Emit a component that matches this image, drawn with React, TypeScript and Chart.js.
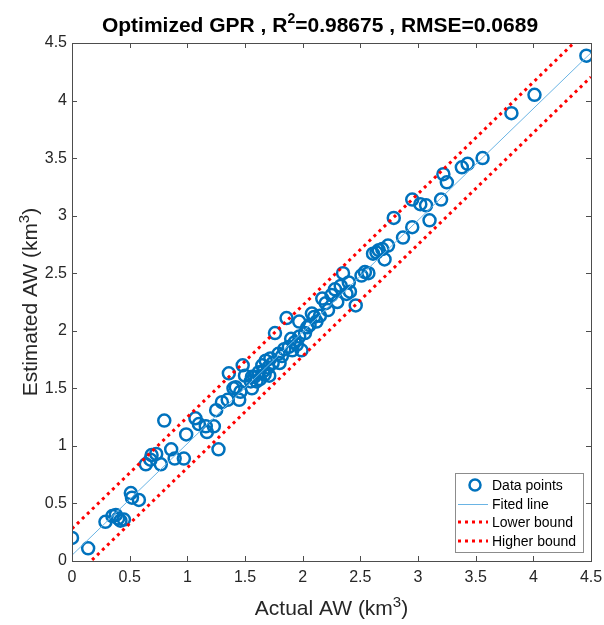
import React, { useEffect, useRef } from "react";
import { Chart, registerables } from "chart.js";

Chart.register(...registerables);

const actualAW = [
  0.0, 0.14, 0.29, 0.35, 0.38, 0.4, 0.42, 0.45, 0.51, 0.52, 0.58, 0.64, 0.68, 0.69, 0.73, 0.77, 0.8, 0.86, 0.89,
  0.97, 0.99, 1.07, 1.1, 1.16, 1.17, 1.23, 1.27, 1.25, 1.3, 1.36, 1.35, 1.4, 1.45, 1.46, 1.48, 1.5, 1.55, 1.56,
  1.58, 1.6, 1.62, 1.65, 1.66, 1.68, 1.7, 1.71, 1.74, 1.76, 1.79, 1.82, 1.86, 1.88, 1.91, 1.93, 1.99, 1.97, 2.02,
  2.04, 2.08, 2.12, 1.97, 2.15, 2.22, 2.2, 2.17, 2.25, 2.28, 2.3, 2.33, 2.35, 2.4, 2.41, 2.46, 2.51, 2.57, 2.61,
  2.64, 2.66, 2.69, 2.71, 2.74, 2.79, 2.87, 2.95, 2.95, 3.02, 3.07, 3.1, 3.2, 3.22, 3.25, 3.38, 3.43, 3.56, 3.81,
  4.01, 4.46, 1.63, 1.67, 1.72, 1.8, 1.84, 1.9, 1.95, 2.06, 2.1, 2.38, 2.54, 1.42, 1.56,
];
const estimatedAW = [
  0.2, 0.11, 0.34, 0.39, 0.4, 0.37, 0.35, 0.36, 0.59, 0.55, 0.53, 0.84, 0.88, 0.92, 0.93, 0.84, 1.22, 0.97, 0.89,
  0.89, 1.1, 1.24, 1.19, 1.17, 1.12, 1.17, 0.97, 1.31, 1.38, 1.63, 1.4, 1.5, 1.4, 1.47, 1.7, 1.61, 1.56, 1.5,
  1.6, 1.56, 1.64, 1.7, 1.65, 1.74, 1.68, 1.61, 1.72, 1.98, 1.8, 1.78, 2.11, 1.86, 1.83, 1.9, 1.83, 1.95, 1.98,
  2.03, 2.15, 2.08, 2.08, 2.13, 2.18, 2.24, 2.28, 2.31, 2.36, 2.25, 2.39, 2.5, 2.42, 2.34, 2.22, 2.48, 2.5, 2.67,
  2.68, 2.7, 2.71, 2.62, 2.74, 2.98, 2.81, 2.9, 3.14, 3.1, 3.09, 2.96, 3.14, 3.36, 3.29, 3.42, 3.45, 3.5, 3.89,
  4.05, 4.39, 1.58, 1.62, 1.76, 1.72, 1.84, 1.93, 1.88, 2.05, 2.12, 2.32, 2.51, 1.51, 1.6,
];

const lineX = [0, 4.5];
const fittedY = [0.05, 4.415];
const lowerY = [-0.16, 4.205];
const higherY = [0.28, 4.645];

const tickValues = [0, 0.5, 1, 1.5, 2, 2.5, 3, 3.5, 4, 4.5];
const tickLabels = ["0", "0.5", "1", "1.5", "2", "2.5", "3", "3.5", "4", "4.5"];

const titleMain = "Optimized GPR , R";
const titleSup = "2";
const titleRest = "=0.98675 , RMSE=0.0689";
const xTitle = "Actual AW (km";
const yTitle = "Estimated AW (km";
const unitSup = "3";
const legendLabels = ["Data points", "Fited line", "Lower bound", "Higher bound"];

const BLUE = "#0072BD";
const FIT = "#6ab4e4";
const RED = "#ff0000";
const AXIS = "#4d4d4d";
const TXT = "#262626";
const FONT = "'Liberation Sans', Arial, sans-serif";

function drawSupText(
  ctx: CanvasRenderingContext2D,
  parts: { t: string; sup?: boolean }[],
  font: string,
  supFont: string,
  supRise: number,
  x: number,
  y: number
) {
  let total = 0;
  for (const p of parts) {
    ctx.font = p.sup ? supFont : font;
    total += ctx.measureText(p.t).width;
  }
  let cx = x - total / 2;
  ctx.textAlign = "left";
  ctx.textBaseline = "alphabetic";
  for (const p of parts) {
    ctx.font = p.sup ? supFont : font;
    ctx.fillText(p.t, cx, p.sup ? y - supRise : y);
    cx += ctx.measureText(p.t).width;
  }
}

const decorPlugin = {
  id: "decor",
  afterDraw(chart: any) {
    const ctx: CanvasRenderingContext2D = chart.ctx;
    const { left, right, top, bottom } = chart.chartArea;
    const xs = chart.scales.x;
    const ys = chart.scales.y;
    ctx.save();
    ctx.strokeStyle = AXIS;
    ctx.lineWidth = 1;
    ctx.strokeRect(Math.round(left) + 0.5, Math.round(top) + 0.5, Math.round(right - left), Math.round(bottom - top));
    const tl = 5;
    ctx.beginPath();
    for (const v of tickValues) {
      const px = Math.round(xs.getPixelForValue(v)) + 0.5;
      ctx.moveTo(px, bottom);
      ctx.lineTo(px, bottom - tl);
      ctx.moveTo(px, top);
      ctx.lineTo(px, top + tl);
      const py = Math.round(ys.getPixelForValue(v)) + 0.5;
      ctx.moveTo(left, py);
      ctx.lineTo(left + tl, py);
      ctx.moveTo(right, py);
      ctx.lineTo(right - tl, py);
    }
    ctx.stroke();

    ctx.fillStyle = "#000";
    drawSupText(
      ctx,
      [{ t: titleMain }, { t: titleSup, sup: true }, { t: titleRest }],
      `bold 21px ${FONT}`,
      `bold 14px ${FONT}`,
      9,
      320,
      32
    );
    ctx.fillStyle = TXT;
    drawSupText(
      ctx,
      [{ t: xTitle }, { t: unitSup, sup: true }, { t: ")" }],
      `21px ${FONT}`,
      `15px ${FONT}`,
      8,
      (left + right) / 2,
      615
    );
    ctx.save();
    ctx.translate(37, (top + bottom) / 2);
    ctx.rotate(-Math.PI / 2);
    drawSupText(
      ctx,
      [{ t: yTitle }, { t: unitSup, sup: true }, { t: ")" }],
      `21px ${FONT}`,
      `15px ${FONT}`,
      8,
      0,
      0
    );
    ctx.restore();

    const lx = 455.5, ly = 473.5, lw = 128, lh = 79;
    ctx.fillStyle = "#fff";
    ctx.fillRect(lx, ly, lw, lh);
    ctx.strokeStyle = "#8c8c8c";
    ctx.lineWidth = 1;
    ctx.strokeRect(lx, ly, lw, lh);
    const rows = [485, 504, 522, 541];
    const sx0 = 458, sx1 = 488;
    ctx.strokeStyle = BLUE;
    ctx.lineWidth = 2.5;
    ctx.beginPath();
    ctx.arc(475, rows[0], 5.5, 0, Math.PI * 2);
    ctx.stroke();
    ctx.strokeStyle = FIT;
    ctx.lineWidth = 1;
    ctx.beginPath();
    ctx.moveTo(sx0, rows[1] + 0.5);
    ctx.lineTo(sx1, rows[1] + 0.5);
    ctx.stroke();
    for (const r of [rows[2], rows[3]]) {
      ctx.strokeStyle = RED;
      ctx.lineWidth = 3;
      ctx.setLineDash([3, 4]);
      ctx.beginPath();
      ctx.moveTo(sx0, r);
      ctx.lineTo(sx1, r);
      ctx.stroke();
      ctx.setLineDash([]);
    }
    ctx.fillStyle = "#000";
    ctx.font = `14px ${FONT}`;
    ctx.textAlign = "left";
    ctx.textBaseline = "middle";
    legendLabels.forEach((l, i) => ctx.fillText(l, 492, rows[i] + 1));
    ctx.restore();
  },
};

export default function App() {
  const ref = useRef<HTMLCanvasElement>(null);
  useEffect(() => {
    document.body.style.margin = "0";
    const canvas = ref.current!;
    const pts = actualAW.map((x, i) => ({ x, y: estimatedAW[i] }));
    const mk = (ys: number[]) => lineX.map((x, i) => ({ x, y: ys[i] }));
    const chart = new Chart(canvas, {
      type: "scatter",
      data: {
        datasets: [
          {
            label: legendLabels[0],
            data: pts,
            pointRadius: 6,
            pointBorderWidth: 2.5,
            pointBackgroundColor: "rgba(0,0,0,0)",
            pointBorderColor: BLUE,
            showLine: false,
            order: 10,
          },
          {
            label: legendLabels[1],
            data: mk(fittedY),
            showLine: true,
            borderColor: FIT,
            borderWidth: 1,
            pointRadius: 0,
            order: 3,
          },
          {
            label: legendLabels[2],
            data: mk(lowerY),
            showLine: true,
            borderColor: RED,
            borderWidth: 3,
            borderDash: [3, 4],
            pointRadius: 0,
            order: 2,
          },
          {
            label: legendLabels[3],
            data: mk(higherY),
            showLine: true,
            borderColor: RED,
            borderWidth: 3,
            borderDash: [3, 4],
            pointRadius: 0,
            order: 1,
          },
        ] as any,
      },
      options: {
        animation: false,
        responsive: false,
        layout: { padding: { top: 43, right: 13, left: 0, bottom: 0 } },
        plugins: { legend: { display: false }, tooltip: { enabled: false }, title: { display: false } },
        scales: {
          x: {
            type: "linear",
            min: 0,
            max: 4.5,
            afterBuildTicks: (s: any) => {
              s.ticks = tickValues.map((v) => ({ value: v }));
            },
            afterFit: (s: any) => {
              s.height = 64;
              s.paddingRight = 0;
              s.paddingLeft = 0;
            },
            grid: { display: false, drawTicks: false, tickLength: 0 },
            border: { display: false },
            ticks: {
              padding: 7,
              color: TXT,
              font: { family: FONT, size: 16 },
              maxRotation: 0,
              autoSkip: false,
              callback: (v: any) => tickLabels[tickValues.indexOf(Number(v))] ?? String(v),
            },
          },
          y: {
            type: "linear",
            min: 0,
            max: 4.5,
            afterBuildTicks: (s: any) => {
              s.ticks = tickValues.map((v) => ({ value: v }));
            },
            afterFit: (s: any) => {
              s.width = 72;
              s.paddingTop = 0;
              s.paddingBottom = 0;
            },
            grid: { display: false, drawTicks: false, tickLength: 0 },
            border: { display: false },
            ticks: {
              padding: 5,
              color: TXT,
              font: { family: FONT, size: 16 },
              autoSkip: false,
              callback: (v: any) => tickLabels[tickValues.indexOf(Number(v))] ?? String(v),
            },
          },
        },
      },
      plugins: [decorPlugin],
    });
    return () => chart.destroy();
  }, []);
  return <canvas ref={ref} width={604} height={625} style={{ display: "block" }} />;
}
